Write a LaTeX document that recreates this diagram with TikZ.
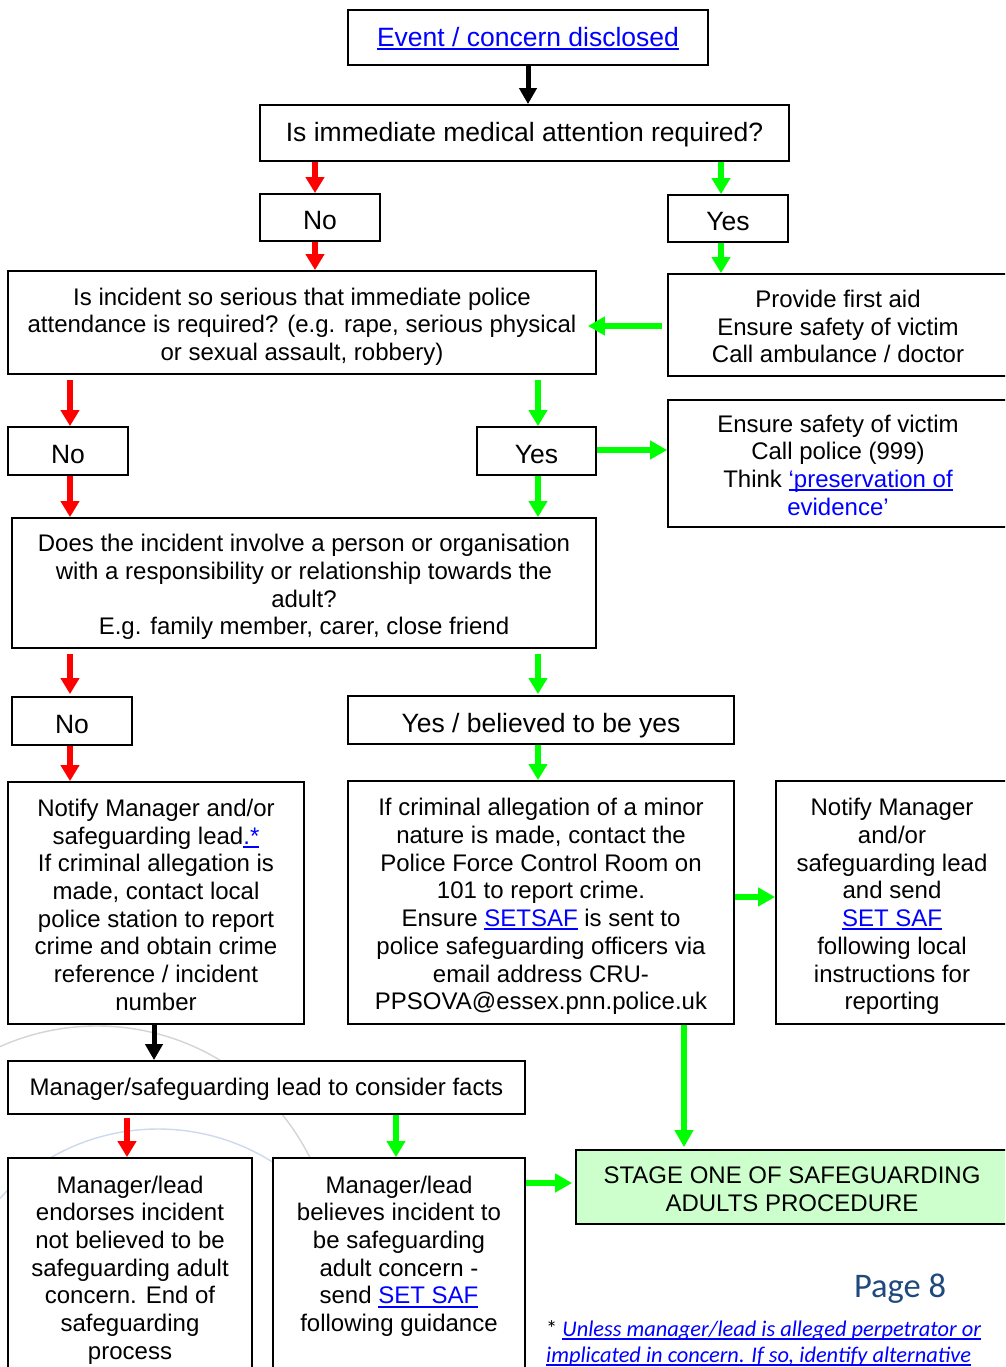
\documentclass[tikz,border=0pt]{standalone}
\usepackage{fontspec}
\setmainfont{Liberation Sans}
\newfontfamily\calib{Carlito}
\usetikzlibrary{arrows.meta}
\definecolor{linkblue}{RGB}{0,0,255}
\definecolor{argreen}{RGB}{0,255,0}
\definecolor{arred}{RGB}{255,0,0}
\definecolor{stagegreen}{RGB}{204,255,204}
\definecolor{pagecol}{RGB}{31,73,125}
\definecolor{arcgray}{RGB}{212,212,212}
\definecolor{arcblue}{RGB}{204,218,236}
\newcommand\lnk[1]{\textcolor{linkblue}{\setbox0\hbox{#1}\rlap{\rule[-3.6pt]{\wd0}{1.8pt}}\box0}}
\newcommand\lnkthin[1]{\textcolor{linkblue}{\setbox0\hbox{#1}\rlap{\rule[-3.4pt]{\wd0}{1.4pt}}\box0}}
\newcommand\wstrut[1]{\rule[-0.244em]{0pt}{\dimexpr 1.154em+#1\relax}}
\newcommand\fst{\wstrut{4.5pt}}
\newcommand\lst{\wstrut{0pt}}
\tikzset{
  basebox/.style={draw, line width=1.8pt, fill=white, align=center, inner sep=0pt,
    font=\fontsize{24}{27.7}\selectfont},
  box/.style={basebox},
  sbox/.style={basebox, execute at begin node={\wstrut{0pt}}},
  tbox/.style={basebox, font=\fontsize{26.5}{30}\selectfont, execute at begin node={\wstrut{0pt}}},
  ybox/.style={basebox, font=\fontsize{26.5}{30}\selectfont, execute at begin node={\wstrut{7pt}}},
  redarr/.style={draw=arred, line width=5.5pt, -{Triangle[width=18pt,length=16pt]}},
  greenarr/.style={draw=argreen, line width=5.5pt, -{Triangle[width=18pt,length=16pt]}},
  greenharr/.style={draw=argreen, line width=6.5pt, -{Triangle[width=18pt,length=17pt]}},
  blackarr/.style={draw=black, line width=5pt, -{Triangle[width=17pt,length=16pt]}}
}
\begin{document}
\begin{tikzpicture}[x=1pt,y=-1pt]
\useasboundingbox (0,0) rectangle (1005,1367);
\clip (0,0) rectangle (1005,1367);
\fill[white] (0,0) rectangle (1005,1367);
% faint background arcs
\draw[arcgray, line width=1.4pt] (97,1264) circle[radius=238pt];
\draw[arcblue, line width=1.4pt] (158,1344) circle[radius=215pt];
% boxes
\node[tbox, minimum width=360pt, minimum height=55pt] (A) at (528,37.5) {\lnk{Event / concern disclosed}};
\node[tbox, minimum width=529pt, minimum height=56pt] (B) at (524.5,133) {Is immediate medical attention required?};
\node[ybox, minimum width=120pt, minimum height=47pt] (No1) at (320,217.5) {No};
\node[ybox, minimum width=120pt, minimum height=47pt] (Yes1) at (728,218.5) {Yes};
\node[box, minimum width=588pt, minimum height=103pt] (C) at (302,322.5) {\fst Is incident so serious that immediate police\\attendance is required? (e.g. rape, serious physical\\or sexual assault, robbery)\lst};
\node[box, minimum width=340pt, minimum height=102pt] (D) at (838,325) {\fst Provide first aid\\Ensure safety of victim\\Call ambulance / doctor\lst};
\node[ybox, minimum width=120pt, minimum height=48pt] (No2) at (68,451) {No};
\node[ybox, minimum width=119pt, minimum height=48pt] (Yes2) at (536.5,451) {Yes};
\node[box, minimum width=340pt, minimum height=127pt] (E) at (838,463.5) {\fst Ensure safety of victim\\Call police (999)\\Think \lnk{‘preservation of}\\\textcolor{linkblue}{evidence’}\lst};
\node[box, minimum width=584pt, minimum height=130pt] (F) at (304,583) {\fst Does the incident involve a person or organisation\\with a responsibility or relationship towards the\\adult?\\E.g. family member, carer, close friend\lst};
\node[ybox, minimum width=120pt, minimum height=48pt] (No3) at (72,721) {No};
\node[ybox, minimum width=386pt, minimum height=48pt] (Yes3) at (541,720) {Yes / believed to be yes};
\node[box, minimum width=296pt, minimum height=242pt] (G) at (156,903) {\fst Notify Manager and/or\\safeguarding lead\lnk{.*}\\If criminal allegation is\\made, contact local\\police station to report\\crime and obtain crime\\reference / incident\\number\lst};
\node[box, minimum width=386pt, minimum height=243pt] (H) at (541,902.5) {\fst If criminal allegation of a minor\\nature is made, contact the\\Police Force Control Room on\\101 to report crime.\\Ensure \lnk{SETSAF} is sent to\\police safeguarding officers via\\email address CRU-\\PPSOVA@essex.pnn.police.uk\lst};
\node[box, minimum width=232pt, minimum height=243pt] (I) at (892,902.5) {\fst Notify Manager\\and/or\\safeguarding lead\\and send\\\lnk{SET SAF}\\following local\\instructions for\\reporting\lst};
\node[sbox, minimum width=517pt, minimum height=53pt] (J) at (266.5,1087.5) {Manager/safeguarding lead to consider facts};
\node[box, fill=stagegreen, minimum width=432pt, minimum height=74pt] (K) at (792,1187) {\fst STAGE ONE OF SAFEGUARDING\\ADULTS PROCEDURE\lst};
\node[box, minimum width=244pt, minimum height=216pt] (L) at (130,1266) {\fst Manager/lead\\endorses incident\\not believed to be\\safeguarding adult\\concern. End of\\safeguarding\\process\lst};
\node[box, minimum width=252pt, minimum height=216pt] (M) at (399,1266) {\fst Manager/lead\\believes incident to\\be safeguarding\\adult concern -\\send \lnk{SET SAF}\\following guidance\\\lst};
% page number and footnote
\node[font=\calib\fontsize{34.5}{38}\selectfont, text=pagecol, inner sep=0pt] (pg) at (900,1289) {Page 8};
\node[anchor=west, align=left, inner sep=0pt, font=\calib\fontsize{22.4}{26}\selectfont] (fn) at (546,1343) {* \lnkthin{\itshape Unless manager/lead is alleged perpetrator or}\\\lnkthin{\itshape implicated in concern. If so, identify alternative}};
% connectors
\draw[blackarr] (A.south) -- (A.south |- B.north);
\draw[redarr] ([xshift=-5pt]No1.north |- B.south) -- ([xshift=-5pt]No1.north);
\draw[redarr] ([xshift=-5pt]No1.south) -- ([xshift=-5pt]No1.south |- C.north);
\draw[greenarr] ([xshift=-7pt]Yes1.north |- B.south) -- ([xshift=-7pt]Yes1.north);
\draw[greenarr] ([xshift=-7pt]Yes1.south) -- ([xshift=-7pt]Yes1.south |- D.north);
\draw[greenharr] ([xshift=-5pt,yshift=-1pt]D.west) -- ([xshift=-9pt,yshift=-1pt]C.east |- D.west);
\draw[redarr] ([xshift=2pt,yshift=-5pt]No2.north |- C.south) -- ([xshift=2pt]No2.north);
\draw[greenarr] ([xshift=1.5pt,yshift=-5pt]Yes2.north |- C.south) -- ([xshift=1.5pt]Yes2.north);
\draw[greenharr] ([yshift=1pt]Yes2.east) -- ([yshift=1pt]Yes2.east -| E.west);
\draw[redarr] ([xshift=2pt]No2.south) -- ([xshift=2pt]No2.south |- F.north);
\draw[greenarr] ([xshift=1.5pt]Yes2.south) -- ([xshift=1.5pt]Yes2.south |- F.north);
\draw[redarr] ([xshift=-2pt,yshift=-5pt]No3.north |- F.south) -- ([xshift=-2pt,yshift=2pt]No3.north);
\draw[greenarr] ([xshift=-3pt,yshift=-5pt]Yes3.north |- F.south) -- ([xshift=-3pt,yshift=1pt]Yes3.north);
\draw[redarr] ([xshift=-2pt]No3.south) -- ([xshift=-2pt]No3.south |- G.north);
\draw[greenarr] ([xshift=-3pt]Yes3.south) -- ([xshift=-3pt]Yes3.south |- H.north);
\draw[greenharr] ([yshift=5.5pt]H.east) -- ([yshift=5.5pt]H.east -| I.west);
\draw[blackarr] ([xshift=-2pt]G.south) -- ([xshift=-2pt]G.south |- J.north);
\draw[greenharr] ([xshift=143pt]H.south) -- ([xshift=143pt,yshift=2pt]H.south |- K.north);
\draw[redarr] ([xshift=-3pt,yshift=-3pt]L.north |- J.south) -- ([xshift=-3pt]L.north);
\draw[greenarr] ([xshift=-3pt]M.north |- J.south) -- ([xshift=-3pt]M.north);
\draw[greenharr] ([yshift=4pt]K.west -| M.east) -- ([xshift=-3pt,yshift=4pt]K.west);
\end{tikzpicture}
\end{document}
